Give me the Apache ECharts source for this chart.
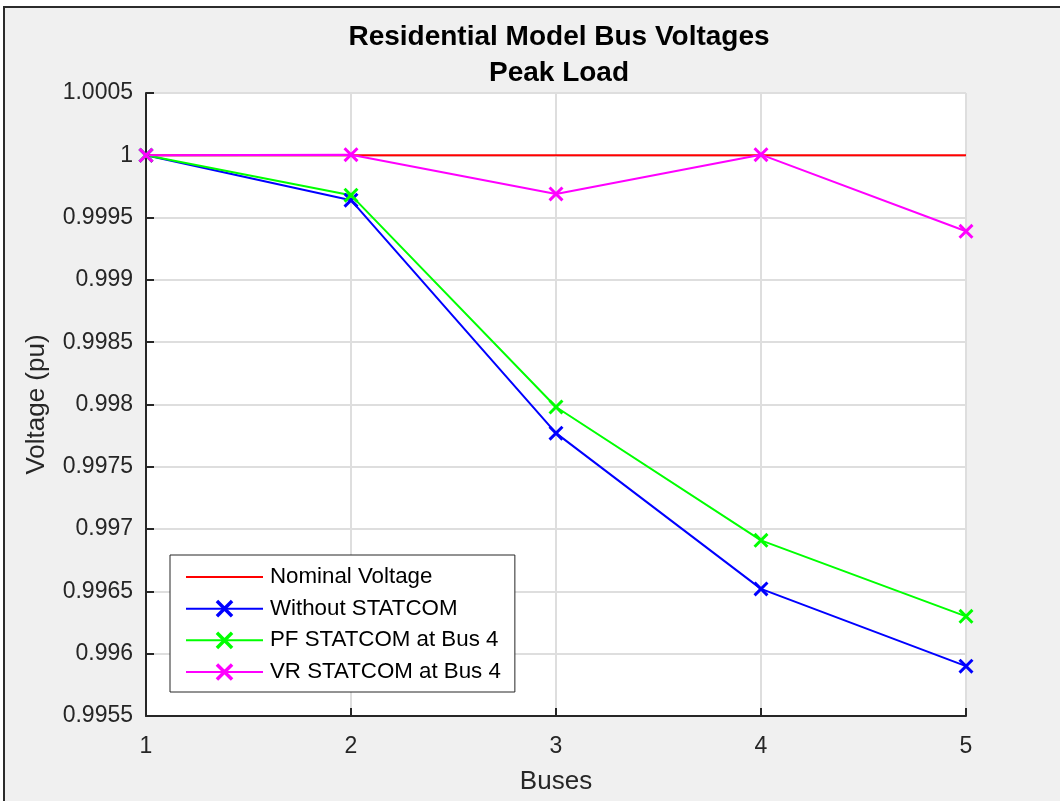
<!DOCTYPE html>
<html>
<head>
<meta charset="utf-8">
<title>Residential Model Bus Voltages</title>
<script src="https://cdn.jsdelivr.net/npm/echarts@6/dist/echarts.min.js"></script>
<style>
  html, body { margin: 0; padding: 0; background: #fff; }
  #frame {
    position: absolute; left: 3px; top: 6px; width: 1057px; height: 795px;
    background: #f0f0f0; border-left: 2px solid #2b2b2b; border-top: 2px solid #2b2b2b;
    box-sizing: border-box;
  }
  #main { position: absolute; left: 0; top: 0; width: 1060px; height: 801px; }
</style>
</head>
<body>
<div id="frame"></div>
<div id="main"></div>
<script>
// bus numbers on the x axis
var buses = [1, 2, 3, 4, 5];
var nominal = [1, 1, 1, 1, 1];
var withoutStatcom = [1.0, 0.99964, 0.99777, 0.99652, 0.9959];
var pfStatcom = [1.0, 0.99968, 0.99798, 0.99691, 0.9963];
var vrStatcom = [1.0, 1.000005, 0.99969, 1.000005, 0.99939];
var seriesNames = ['Nominal Voltage', 'Without STATCOM', 'PF STATCOM at Bus 4', 'VR STATCOM at Bus 4'];

// X marker built from two thin bars so it can be filled
var xMark = 'path://M0,1.4L1.4,0L10,8.6L8.6,10Z M8.6,0L10,1.4L1.4,10L0,8.6Z';
var axisColor = '#262626';
var gridColor = '#dedede';
var font = 'Liberation Sans, Arial, Helvetica, sans-serif';

function pairs(ys) {
  return buses.map(function (b, i) { return [b, ys[i]]; });
}

function lineSeries(name, ys, color, marker) {
  return {
    name: name,
    type: 'line',
    data: pairs(ys),
    symbol: marker ? xMark : 'circle',
    symbolSize: 15,
    showSymbol: !!marker,
    animation: false,
    lineStyle: { color: color, width: 2 },
    // no marker on the nominal line, also not in the legend
    itemStyle: { color: marker ? color : 'rgba(0,0,0,0)' },
    emphasis: { disabled: true }
  };
}

var option = {
  backgroundColor: 'transparent',
  title: {
    text: 'Residential Model Bus Voltages\nPeak Load',
    left: 554,
    top: 14,
    textAlign: 'center',
    textStyle: { fontFamily: font, fontSize: 28, fontWeight: 'bold', color: '#000', lineHeight: 36 }
  },
  legend: {
    orient: 'vertical',
    left: 170,
    top: 555,
    data: seriesNames,
    backgroundColor: '#fff',
    borderColor: axisColor,
    borderWidth: 1,
    borderRadius: 0,
    padding: [11, 14, 9, 15],
    itemWidth: 77,
    itemHeight: 22,
    itemGap: 9.67,
    textStyle: { fontFamily: font, fontSize: 22.3, color: '#000', padding: [0, 0, 0, 2] }
  },
  grid: {
    left: 146,
    right: 94,
    top: 93,
    bottom: 85,
    show: true,
    backgroundColor: '#fff',
    borderWidth: 0
  },
  xAxis: {
    type: 'value',
    min: 1,
    max: 5,
    interval: 1,
    name: 'Buses',
    nameLocation: 'middle',
    nameGap: 53,
    nameTextStyle: { fontFamily: font, fontSize: 26, color: axisColor },
    axisLine: { lineStyle: { color: axisColor, width: 2 } },
    axisTick: { inside: true, length: 8, lineStyle: { color: axisColor, width: 2 } },
    axisLabel: { fontFamily: font, fontSize: 23, color: axisColor, margin: 19 },
    splitLine: { show: true, lineStyle: { color: gridColor, width: 2 } }
  },
  yAxis: {
    type: 'value',
    min: 0.9955,
    max: 1.0005,
    interval: 0.0005,
    name: 'Voltage (pu)',
    nameLocation: 'middle',
    nameRotate: 90,
    nameGap: 96,
    nameTextStyle: { fontFamily: font, fontSize: 26, color: axisColor },
    axisLine: { show: true, lineStyle: { color: axisColor, width: 2 } },
    axisTick: { show: true, inside: true, length: 8, lineStyle: { color: axisColor, width: 2 } },
    axisLabel: {
      fontFamily: font, fontSize: 23, color: axisColor, margin: 13, padding: [5, 0, 0, 0],
      formatter: function (v) { return String(Number(v.toFixed(4))); }
    },
    splitLine: { show: true, lineStyle: { color: gridColor, width: 2 } }
  },
  series: [
    lineSeries(seriesNames[0], nominal, '#ff0000', false),
    lineSeries(seriesNames[1], withoutStatcom, '#0000ff', true),
    lineSeries(seriesNames[2], pfStatcom, '#00ff00', true),
    lineSeries(seriesNames[3], vrStatcom, '#ff00ff', true)
  ]
};

var chart = echarts.init(document.getElementById('main'));
chart.setOption(option);
</script>
</body>
</html>
